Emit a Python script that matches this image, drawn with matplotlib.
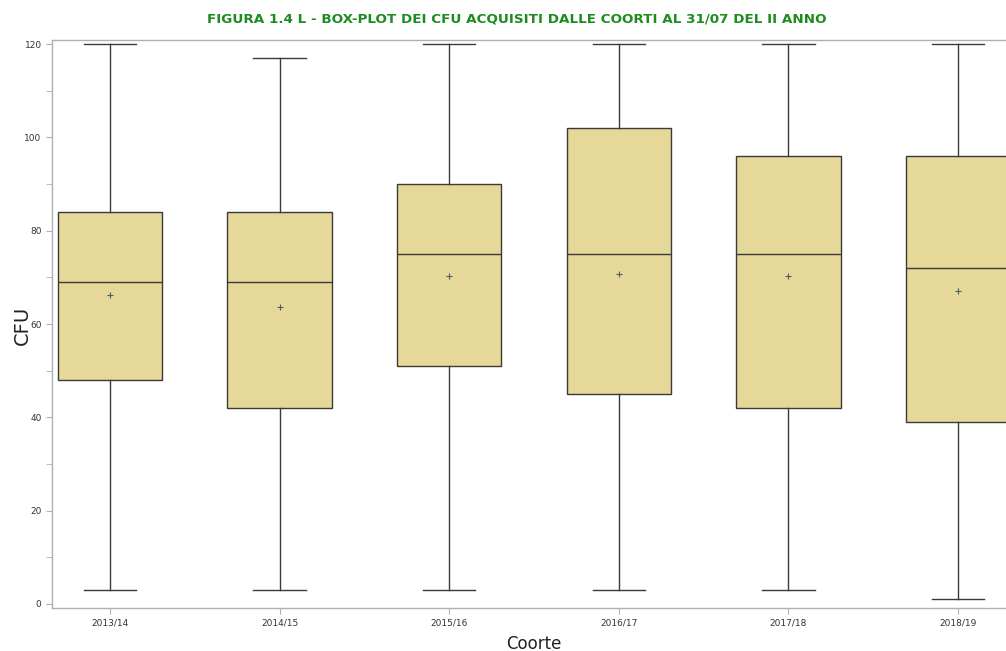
import matplotlib
matplotlib.use("Agg")
import matplotlib.pyplot as plt
from matplotlib.ticker import MultipleLocator

cohorts = ["2013/14", "2014/15", "2015/16", "2016/17", "2017/18", "2018/19"]
whisker_low = [3, 3, 3, 3, 3, 1]
q1 = [48, 42, 51, 45, 42, 39]
median = [69, 69, 75, 75, 75, 72]
q3 = [84, 84, 90, 102, 96, 96]
whisker_high = [120, 117, 120, 120, 120, 120]
mean = [66.2, 63.7, 70.3, 70.8, 70.2, 67.0]

W, H = 1006, 651
fig = plt.figure(figsize=(W / 100, H / 100), dpi=100)
left, right, top, bottom = 52, 1016, 40, 608
ax = fig.add_axes([left / W, 1 - bottom / H, (right - left) / W, (bottom - top) / H])

stats = []
for i, c in enumerate(cohorts):
    stats.append(dict(label=c, whislo=whisker_low[i], q1=q1[i], med=median[i],
                      q3=q3[i], whishi=whisker_high[i], mean=mean[i], fliers=[]))

edge = "#3a3a3a"
ax.bxp(stats, positions=range(1, len(cohorts) + 1), widths=0.615, showmeans=True,
       patch_artist=True, showfliers=False,
       boxprops=dict(facecolor="#E6D898", edgecolor=edge, linewidth=1.0),
       medianprops=dict(color=edge, linewidth=1.0),
       whiskerprops=dict(color=edge, linewidth=1.0),
       capprops=dict(color=edge, linewidth=1.0),
       capwidths=0.31,
       meanprops=dict(marker="+", markeredgecolor="#4a5a7a", markersize=5, markeredgewidth=0.8))

ax.set_xlim(0.658, 6.342)
ax.set_ylim(-0.86, 120.86)
ax.yaxis.set_major_locator(MultipleLocator(20))
ax.yaxis.set_minor_locator(MultipleLocator(10))
for s in ["top", "left", "bottom"]:
    ax.spines[s].set_color("#b0b0b0")
    ax.spines[s].set_linewidth(1.0)
ax.spines["right"].set_visible(False)
ax.tick_params(axis="both", which="both", colors="#b0b0b0", labelcolor="#333333", labelsize=6.5)
ax.tick_params(axis="both", which="major", length=4)
ax.tick_params(axis="y", which="minor", length=4)

fig.text(22 / W, 1 - 325 / H, "CFU", rotation=90, fontsize=14, color="#222222",
         ha="center", va="center")
fig.text(534 / W, 1 - 644 / H, "Coorte", fontsize=12, color="#222222",
         ha="center", va="center")
fig.text(517 / W, 1 - 19 / H, "FIGURA 1.4 L - BOX-PLOT DEI CFU ACQUISITI DALLE COORTI AL 31/07 DEL II ANNO",
         fontsize=9.7, fontweight="bold", color="#1E8C1E", ha="center", va="center")

fig.savefig("out.png", dpi=100)
